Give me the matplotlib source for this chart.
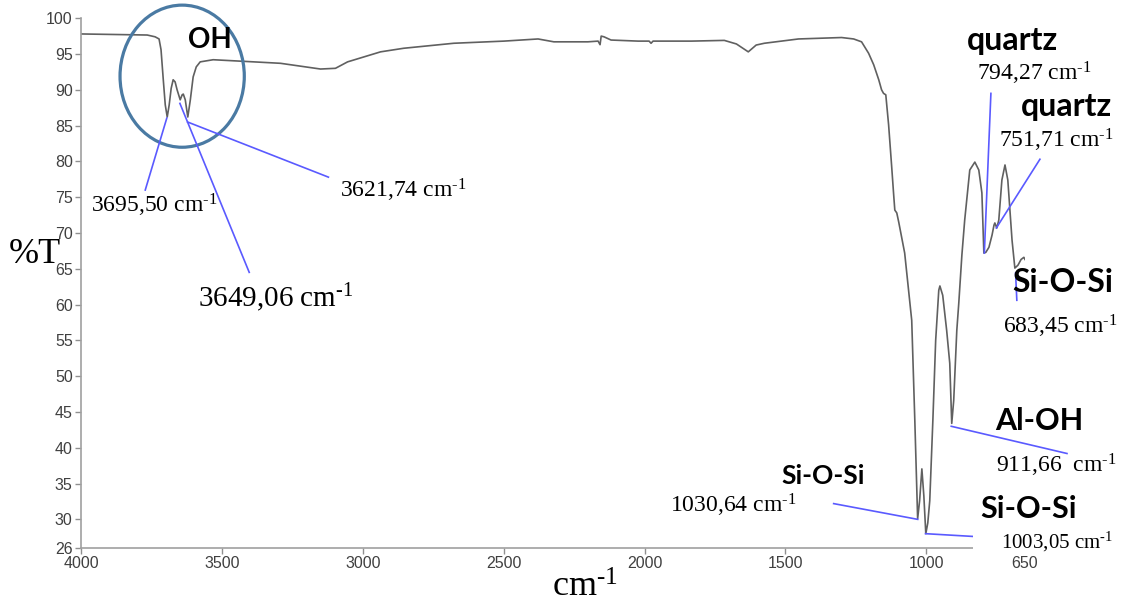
import matplotlib
matplotlib.use('Agg')
import matplotlib.pyplot as plt
from matplotlib.patches import Ellipse

# FTIR spectrum
wavenumber = [4000, 3765, 3737, 3723, 3716, 3708, 3701, 3694, 3687, 3680, 3673, 3666,
              3659, 3648, 3641, 3637, 3630, 3621, 3612, 3602, 3591, 3577, 3531, 3410,
              3292, 3221, 3150, 3097, 3054, 2937, 2855, 2677, 2499, 2378, 2322, 2201,
              2165, 2158, 2154, 2144, 2119, 2023, 1984, 1977, 1970, 1834, 1717, 1674,
              1632, 1604, 1575, 1454, 1301, 1258, 1230, 1205, 1187, 1169, 1159, 1152,
              1144, 1134, 1123, 1116, 1112, 1105, 1098, 1077, 1052, 1041, 1031, 1024,
              1016, 1009, 1002, 995, 988, 977, 967, 956, 952, 942, 928, 917, 910, 903,
              892, 885, 874, 864, 846, 828, 814, 803, 796, 789, 778, 767, 760, 757, 750,
              743, 732, 721, 711, 696, 686, 675, 664, 654, 650]
transmittance = [97.8, 97.65, 97.4, 97.1, 95.6, 91.4, 87.9, 86.2, 87.9, 90.2, 91.4, 91.1,
                 90.0, 88.6, 89.3, 89.4, 88.6, 86.2, 88.6, 91.8, 93.2, 93.9, 94.2, 93.95,
                 93.7, 93.3, 92.9, 93.0, 93.9, 95.3, 95.8, 96.5, 96.8, 97.1, 96.7, 96.7,
                 96.8, 96.3, 97.5, 97.4, 96.95, 96.8, 96.8, 96.5, 96.8, 96.8, 96.9, 96.4,
                 95.3, 96.25, 96.5, 97.1, 97.3, 97.1, 96.7, 95.1, 93.5, 91.4, 90.0, 89.5,
                 89.3, 85.1, 79.2, 75.3, 73.2, 72.8, 71.5, 67.2, 57.8, 43.8, 30.1, 32.6,
                 37.05, 33.3, 28.0, 29.5, 32.6, 43.8, 55.0, 62.0, 62.6, 61.3, 56.4, 51.8,
                 43.4, 46.6, 56.4, 60.2, 66.9, 71.8, 78.8, 79.9, 78.8, 75.6, 67.2, 67.3,
                 68.0, 69.7, 71.1, 71.4, 70.7, 71.8, 77.4, 79.5, 77.4, 69.0, 65.1, 65.5,
                 66.3, 66.6, 66.3]

# marked peaks
peak_wn = [3695.50, 3649.06, 3621.74, 794.27, 751.71, 683.45, 911.66, 1030.64, 1003.05]
peak_t = [86.05, 88.1, 85.5, 67.2, 70.7, 64.4, 43.0, 30.0, 28.0]
peak_text = ['3695,50 cm', '3649,06 cm', '3621,74 cm', '794,27 cm', '751,71 cm',
             '683,45 cm', '911,66  cm', '1030,64 cm', '     1003,05 cm']
# end of each leader line and where its label sits
leader_wn = [3772, 3403, 3122, 771, 597, 679, 501, 1329, 828]
leader_t = [76.0, 64.5, 77.8, 89.5, 80.3, 60.6, 39.2, 32.2, 27.6]
label_wn = [3740, 3310, 2858, 618, 540, 526, 540, 1685, 828]
label_t = [73.9, 61.0, 76.0, 92.3, 83.0, 57.0, 37.5, 31.95, 26.9]
label_ha = ['center'] * 8 + ['left']
label_size = [17, 21, 17, 17, 17, 17, 17, 17, 15]

# band assignments
band_names = ['OH', 'quartz', 'quartz', 'Si-O-Si', 'Al-OH', 'Si-O-Si', 'Si-O-Si']
band_wn = [3541, 693, 501, 515, 600, 1368, 639]
band_t = [96.95, 96.95, 87.6, 63.1, 43.8, 36.1, 31.5]
band_size = [20, 23, 23, 23, 22, 19, 22]

x_ticks = [4000, 3500, 3000, 2500, 2000, 1500, 1000, 650]
y_ticks = [26, 30, 35, 40, 45, 50, 55, 60, 65, 70, 75, 80, 85, 90, 95, 100]

plt.rcParams['mathtext.fontset'] = 'custom'
plt.rcParams['mathtext.rm'] = 'Liberation Serif'
plt.rcParams['mathtext.it'] = 'Liberation Serif:italic'
plt.rcParams['mathtext.bf'] = 'Liberation Serif:bold'

W, H = 1123, 607
fig = plt.figure(figsize=(W / 100, H / 100), dpi=100)
ax = fig.add_axes([81 / W, 59 / H, 944 / W, 529.8 / H])

ax.plot(wavenumber, transmittance, color='#606060', lw=1.2)

ax.set_xlim(4000, 650)
ax.set_ylim(26, 100)
ax.set_xticks(x_ticks)
ax.set_yticks(y_ticks)
ax.spines['top'].set_visible(False)
ax.spines['right'].set_visible(False)
for s in ('left', 'bottom'):
    ax.spines[s].set_color('#a0a0a0')
    ax.spines[s].set_linewidth(1.2)
ax.tick_params(length=4, width=1, color='#909090', labelcolor='#404040', pad=2)
for lab in ax.get_xticklabels() + ax.get_yticklabels():
    lab.set_fontfamily('Liberation Sans')
    lab.set_fontsize(11.5)

# OH circle
ax.add_patch(Ellipse((3641, 91.9), 441, 19.85, fill=False, ec='#4a7aa3',
                     lw=2.3, clip_on=False, zorder=3))

blue = '#5a5aff'
for pw, pt, lw_, lt, txt, tw, tt, ha, fs in zip(peak_wn, peak_t, leader_wn, leader_t,
                                                peak_text, label_wn, label_t,
                                                label_ha, label_size):
    ax.plot([pw, lw_], [pt, lt], color=blue, lw=1.2, clip_on=False, zorder=4)
    bbox = None
    if ha == 'left':
        bbox = dict(fc='white', ec='none', pad=1)
    ax.text(tw, tt, txt + r'$^{\text{-1}}$', fontsize=fs, family='Liberation Serif',
            ha=ha, va='center', clip_on=False, bbox=bbox, zorder=5)

for name, bw, bt, fs in zip(band_names, band_wn, band_t, band_size):
    ax.text(bw, bt, name, fontsize=fs, family='Lato', weight='bold',
            ha='center', va='center', clip_on=False, zorder=6)

fig.text(35 / W, 1 - 255 / H, '%T', fontsize=26, family='Liberation Serif',
         ha='center', va='center')
fig.text(585 / W, 1 - 588 / H, r'cm$^{\text{-1}}$', fontsize=26,
         family='Liberation Serif', ha='center', va='center')

fig.savefig('out.png', dpi=100)
